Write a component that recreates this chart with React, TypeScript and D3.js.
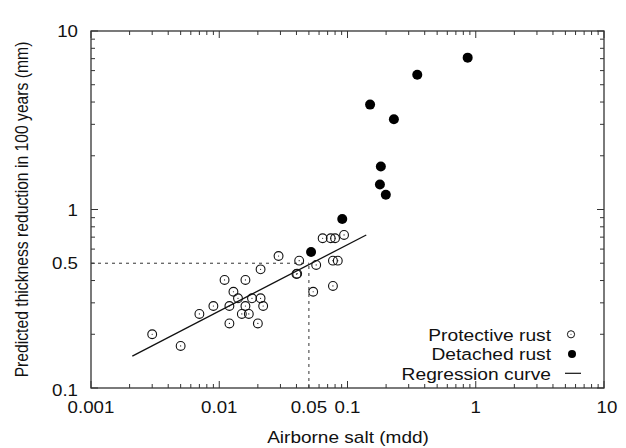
import React from "react";
import * as d3 from "d3";

const protectiveX = [0.003, 0.005, 0.007, 0.009, 0.011, 0.012, 0.012, 0.0129, 0.014, 0.016, 0.016, 0.015, 0.017, 0.018, 0.021, 0.022, 0.020, 0.021, 0.029, 0.040, 0.0405, 0.042, 0.054, 0.057, 0.064, 0.074, 0.080, 0.094, 0.077, 0.084, 0.077];
const protectiveY = [0.20, 0.172, 0.26, 0.288, 0.403, 0.288, 0.23, 0.346, 0.318, 0.403, 0.288, 0.26, 0.26, 0.318, 0.318, 0.288, 0.23, 0.462, 0.549, 0.435, 0.437, 0.517, 0.346, 0.489, 0.69, 0.69, 0.69, 0.72, 0.517, 0.517, 0.373];

const detachedX = [0.052, 0.091, 0.865, 0.35, 0.15, 0.23, 0.182, 0.179, 0.199];
const detachedY = [0.578, 0.885, 7.09, 5.69, 3.87, 3.2, 1.74, 1.38, 1.21];

const regressionX = [0.0021, 0.14];
const regressionY = [0.151, 0.72];

const refX = 0.05;
const refY = 0.5;

const xTickLabels = ["0.001", "0.01", "0.05", "0.1", "1", "10"];
const yTickLabels = ["0.1", "0.5", "1", "10"];

const legendLabels = ["Protective rust", "Detached rust", "Regression curve"];

const W = 626;
const H = 448;
const L = 91, R = 604, T = 31, B = 388;
const FONT = "'Liberation Sans', Arial, Helvetica, sans-serif";
const SX = 1.1;

export default function App() {
  const x = d3.scaleLog().domain([0.001, 10]).range([L, R]);
  const y = d3.scaleLog().domain([0.1, 10]).range([B, T]);

  const xTicks: { v: number; major: boolean }[] = [];
  for (let e = -3; e <= 0; e++) {
    for (let k = 1; k <= 9; k++) xTicks.push({ v: k * Math.pow(10, e), major: k === 1 });
  }
  xTicks.push({ v: 10, major: true });
  const yTicks: { v: number; major: boolean }[] = [];
  for (let e = -1; e <= 0; e++) {
    for (let k = 1; k <= 9; k++) yTicks.push({ v: k * Math.pow(10, e), major: k === 1 });
  }
  yTicks.push({ v: 10, major: true });

  const line = d3.line<[number, number]>().x((d) => x(d[0])).y((d) => y(d[1]));
  const regPts: [number, number][] = regressionX.map((v, i) => [v, regressionY[i]]);

  const fs = 17;
  return (
    <svg width={W} height={H} style={{ position: "absolute", left: 0, top: 0, background: "#fff" }} fontFamily={FONT}>
      <rect x={0} y={0} width={W} height={H} fill="#fff" />
      {/* dashed reference */}
      <line x1={x(0.001)} x2={x(refX)} y1={y(refY)} y2={y(refY)} stroke="#333" strokeWidth={1} strokeDasharray="3,4" />
      <line x1={x(refX)} x2={x(refX)} y1={y(0.1)} y2={y(refY)} stroke="#333" strokeWidth={1} strokeDasharray="3,4" />
      {/* ticks */}
      {xTicks.map((t, i) => {
        const len = t.major ? 7 : 4;
        const px = x(t.v);
        return (
          <g key={"xt" + i}>
            <line x1={px} x2={px} y1={B} y2={B - len} stroke="#333" strokeWidth={1} />
            <line x1={px} x2={px} y1={T} y2={T + len} stroke="#333" strokeWidth={1} />
          </g>
        );
      })}
      {yTicks.map((t, i) => {
        const len = t.major ? 7 : 4;
        const py = y(t.v);
        return (
          <g key={"yt" + i}>
            <line x1={L} x2={L + len} y1={py} y2={py} stroke="#333" strokeWidth={1} />
            <line x1={R} x2={R - len} y1={py} y2={py} stroke="#333" strokeWidth={1} />
          </g>
        );
      })}
      <rect x={L} y={T} width={R - L} height={B - T} fill="none" stroke="#333" strokeWidth={1.3} />
      {/* tick labels */}
      {xTickLabels.map((s) => (
        <text key={"xl" + s} transform={`translate(${x(+s) + (s === "10" ? 3 : 0)},413) scale(${SX},1)`} fontSize={fs} textAnchor="middle" fill="#111">{s}</text>
      ))}
      {yTickLabels.map((s) => (
        <text key={"yl" + s} transform={`translate(78,${y(+s) + 6 + (s === "0.1" ? 2 : 0)}) scale(${SX},1)`} fontSize={fs} textAnchor="end" fill="#111">{s}</text>
      ))}
      <text transform={`translate(348,443) scale(1.12,1)`} fontSize={17} textAnchor="middle" fill="#111">Airborne salt (mdd)</text>
      <text transform={`translate(28,${(T + B) / 2}) scale(1.12,1) rotate(-90)`} fontSize={15.7} textAnchor="middle" fill="#111">Predicted thickness reduction in 100 years (mm)</text>
      {/* regression */}
      <path d={line(regPts) || ""} fill="none" stroke="#111" strokeWidth={1.3} />
      {/* protective */}
      {protectiveX.map((v, i) => (
        <g key={"p" + i}>
          <circle cx={x(v)} cy={y(protectiveY[i])} r={4.4} fill="none" stroke="#111" strokeWidth={1.1} />
          <circle cx={x(v)} cy={y(protectiveY[i])} r={0.6} fill="#111" />
        </g>
      ))}
      {detachedX.map((v, i) => (
        <circle key={"d" + i} cx={x(v)} cy={y(detachedY[i])} r={5} fill="#000" />
      ))}
      {/* legend */}
      {legendLabels.map((s, i) => (
        <text key={"lg" + s} transform={`translate(551,${340.5 + i * 19.5}) scale(1.13,1)`} fontSize={fs} textAnchor="end" fill="#111">{s}</text>
      ))}
      <circle cx={571} cy={334.3} r={3.6} fill="none" stroke="#111" strokeWidth={1} />
      <circle cx={571} cy={334.3} r={0.5} fill="#111" />
      <circle cx={572} cy={354} r={4} fill="#000" />
      <line x1={565} x2={581} y1={373.3} y2={373.3} stroke="#111" strokeWidth={1.2} />
    </svg>
  );
}
